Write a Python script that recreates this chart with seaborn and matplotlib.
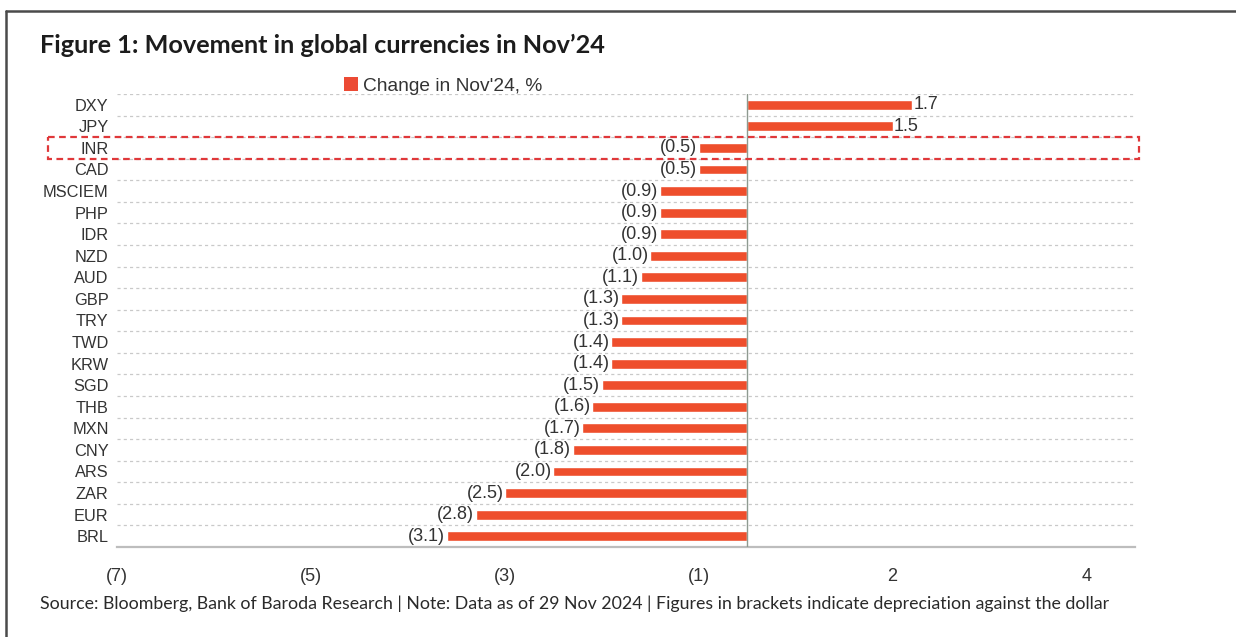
import matplotlib
matplotlib.use("Agg")
import matplotlib.pyplot as plt
from matplotlib.patches import Patch, Rectangle
from matplotlib.lines import Line2D
import matplotlib.transforms as mtransforms
import seaborn as sns
import pandas as pd

# Currency moves in Nov'24 (%), top to bottom
currencies = ["DXY", "JPY", "INR", "CAD", "MSCIEM", "PHP", "IDR", "NZD", "AUD",
              "GBP", "TRY", "TWD", "KRW", "SGD", "THB", "MXN", "CNY", "ARS",
              "ZAR", "EUR", "BRL"]
changes = [1.7, 1.5, -0.5, -0.5, -0.9, -0.9, -0.9, -1.0, -1.1,
           -1.3, -1.3, -1.4, -1.4, -1.5, -1.6, -1.7, -1.8, -2.0,
           -2.5, -2.8, -3.1]
tick_values = [-6.5, -4.5, -2.5, -0.5, 1.5, 3.5]
tick_labels = ["(7)", "(5)", "(3)", "(1)", "2", "4"]
highlight = "INR"

title = "Figure 1: Movement in global currencies in Nov\u201924"
legend_label = "Change in Nov'24, %"
footer = ("Source: Bloomberg, Bank of Baroda Research | Note: Data as of 29 Nov 2024 | "
          "Figures in brackets indicate depreciation against the dollar")

df = pd.DataFrame({"currency": currencies, "change": changes})

BAR = "#EE4E2C"
TXT = "#333333"
SANS = ["Liberation Sans", "DejaVu Sans"]

sns.set_theme(style="white")
plt.rcParams["font.family"] = SANS

W, H = 1236, 637
fig = plt.figure(figsize=(W / 100, H / 100), dpi=100)
fig.patch.set_facecolor("white")
ax = fig.add_axes([117 / W, (H - 547) / H, (1135 - 117) / W, (547 - 94) / H])

sns.barplot(data=df, x="change", y="currency", orient="h", color=BAR,
            saturation=1, width=0.46, ax=ax)

ax.set_xlim(-6.5, 4.0)
ax.set_ylim(len(currencies) - 0.5, -0.5)

# row separators
n = len(currencies)
ax.set_yticks([i - 0.5 for i in range(n)], minor=True)
ax.grid(axis="y", which="minor", color="#c9c9c9", linestyle=(0, (2.5, 2.5)), lw=0.9)
ax.grid(axis="x", visible=False)
ax.grid(axis="y", which="major", visible=False)
ax.tick_params(axis="y", which="minor", length=0)
ax.axvline(0, color="#8e9a90", lw=1.0, zorder=3)

# axes styling
for side in ("top", "right", "left"):
    ax.spines[side].set_visible(False)
ax.spines["bottom"].set_color("#bdbdbd")
ax.spines["bottom"].set_linewidth(1.6)
ax.set_xticks(tick_values)
ax.set_xticklabels(tick_labels)
ax.tick_params(axis="x", length=5, width=0.9, color="#a8a8a8", pad=10,
               labelsize=13, labelcolor=TXT)
ax.tick_params(axis="y", length=0, pad=6, labelsize=11.8, labelcolor=TXT)
ax.set_xlabel("")
ax.set_ylabel("")


def fmt(v):
    return f"({abs(v):.1f})" if v < 0 else f"{v:.1f}"


ax.bar_label(ax.containers[0], labels=[fmt(v) for v in changes], padding=1,
             fontsize=13, color=TXT)

# highlighted row
blend = mtransforms.blended_transform_factory(fig.transFigure, ax.transData)
row = currencies.index(highlight)
ax.add_patch(Rectangle((48 / W, row - 0.5), (1139 - 48) / W, 1.0,
                       transform=blend, fill=False, edgecolor="#E0383A",
                       lw=1.6, linestyle=(0, (3, 2)), clip_on=False, zorder=5))

# legend
leg = fig.legend(handles=[Patch(facecolor="#EC4A34", edgecolor="none")],
                 labels=[legend_label], loc="center left",
                 bbox_to_anchor=(327 / W, (H - 86) / H), frameon=False,
                 handlelength=0.7, handleheight=0.7, handletextpad=0.3,
                 fontsize=13.8)
for t in leg.get_texts():
    t.set_color(TXT)

# titles
fig.text(40 / W, (H - 45) / H, title, fontsize=18.2, fontweight="bold",
         family=["Lato", "DejaVu Sans"], color="#1c1c1c", va="center", ha="left")
fig.text(40 / W, (H - 604) / H, footer, fontsize=12.8,
         family=["Lato", "DejaVu Sans"], color="#2a2a2a", va="center", ha="left")

# frame
fig.add_artist(Line2D([6 / W, 1.0], [(H - 11) / H] * 2, transform=fig.transFigure,
                      color="#4a4a4a", lw=1.8))
fig.add_artist(Line2D([6 / W] * 2, [0, (H - 11) / H], transform=fig.transFigure,
                      color="#4a4a4a", lw=1.8))

fig.savefig("out.png", dpi=100)
